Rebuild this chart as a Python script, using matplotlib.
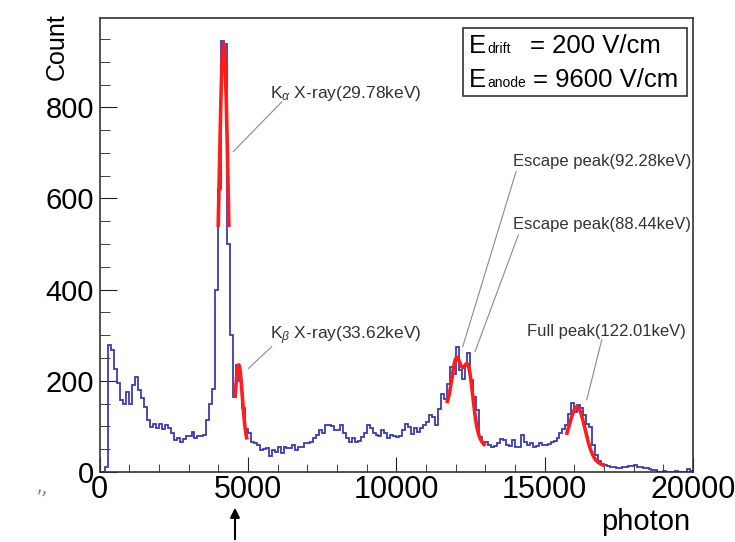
import numpy as np
import matplotlib
matplotlib.use("Agg")
import matplotlib.pyplot as plt
from matplotlib.ticker import MultipleLocator
from matplotlib.patches import Rectangle

plt.rcParams['font.family'] = ['Liberation Sans', 'DejaVu Sans']
plt.rcParams['mathtext.fontset'] = 'custom'
plt.rcParams['mathtext.rm'] = 'Liberation Sans'
plt.rcParams['mathtext.it'] = 'Liberation Sans:italic'

# histogram: 200 bins of 100 photons, 0..20000
bin_width = 100
counts = [
    0, 0, 10, 278, 268, 225, 195, 158, 150, 175,
    150, 190, 208, 180, 162, 142, 114, 99, 105, 97,
    105, 94, 103, 97, 85, 70, 75, 66, 72, 80,
    80, 87, 75, 80, 80, 82, 114, 150, 183, 400,
    620, 945, 940, 500, 300, 165, 235, 200, 140, 95,
    85, 66, 64, 59, 48, 50, 52, 34, 48, 44,
    55, 41, 55, 52, 52, 59, 48, 55, 55, 63,
    63, 66, 74, 81, 92, 85, 103, 103, 100, 92,
    92, 103, 85, 74, 66, 74, 66, 68, 77, 85,
    103, 97, 85, 81, 80, 92, 85, 74, 81, 80,
    77, 80, 92, 106, 99, 84, 96, 88, 96, 103,
    110, 124, 120, 103, 139, 172, 161, 194, 230, 215,
    275, 223, 205, 234, 261, 201, 165, 135, 77, 66,
    66, 60, 55, 57, 63, 73, 70, 59, 58, 70,
    55, 55, 81, 66, 59, 63, 55, 57, 63, 60,
    59, 62, 66, 68, 74, 85, 95, 103, 128, 152,
    132, 147, 140, 125, 105, 99, 60, 37, 23, 18,
    15, 14, 12, 11, 8, 9, 10, 11, 13, 14,
    15, 12, 10, 9, 8, 7, 5, 4, 1, 1,
    2, 1, 1, 1, 2, 1, 1, 1, 6, 2,
]

# fit results: gaussians on a linear background
# (range lo, range hi, bg at lo, bg at hi, [(amp, mean, sigma), ...])
fit_kalpha = (4000, 4360, 90, 90, [(850, 4180, 160)])
fit_kbeta = (4570, 4960, 60, 60, [(175, 4690, 122)])
fit_escape = (11720, 12960, 135, 60, [(128, 12030, 160), (135, 12420, 160)])
fit_full = (15750, 16960, 40, 15, [(110, 16100, 262)])
fits = [fit_kalpha, fit_kbeta, fit_escape, fit_full]

labels = ["K$_{\\alpha}$ X-ray(29.78keV)", "K$_{\\beta}$ X-ray(33.62keV)",
          "Escape peak(92.28keV)", "Escape peak(88.44keV)", "Full peak(122.01keV)"]
label_size = [12.5, 12.5, 12, 12, 12]
label_pos = [(5746, 831), (5746, 300), (13950, 681), (13950, 542), (14397, 308)]
line_from = [(6140, 812), (5803, 275), (14036, 659), (14113, 520), (16924, 290)]
line_to = [(4509, 703), (5015, 227), (12240, 275), (12654, 264), (16418, 158)]


def fitfunc(x, p):
    lo, hi, b0, b1, gs = p
    y = b0 + (b1 - b0) * (x - lo) / (hi - lo)
    for a, m, s in gs:
        y = y + a * np.exp(-0.5 * ((x - m) / s) ** 2)
    return y


fig = plt.figure(figsize=(7.35, 5.42), dpi=100)
ax = fig.add_axes([0.1354, 0.1292, 0.8075, 0.8376])

edges = np.arange(len(counts) + 1) * bin_width
ax.stairs(counts, edges, color='#3c3cb0', lw=1.3, zorder=2)

for p in fits:
    xx = np.linspace(p[0], p[1], 300)
    ax.plot(xx, fitfunc(xx, p), color='#ff1c1c', lw=2.6, zorder=3)

for t, fs, (tx, ty), a, b in zip(labels, label_size, label_pos, line_from, line_to):
    ax.text(tx, ty, t, fontsize=fs, color='#333333', va='center', ha='left')
    ax.plot([a[0], b[0]], [a[1], b[1]], color='#8a8a8a', lw=0.8, zorder=1)

ax.set_xlim(0, 20000)
ax.set_ylim(0, 996)
ax.set_xticks([0, 5000, 10000, 15000, 20000])
ax.set_yticks([0, 200, 400, 600, 800])
ax.xaxis.set_minor_locator(MultipleLocator(1000))
ax.yaxis.set_minor_locator(MultipleLocator(50))
ax.tick_params(which='both', direction='in', top=False, right=False,
               labelsize=21, color='#222222')
ax.tick_params(axis='x', which='major', length=11, pad=2, labelsize=22)
ax.tick_params(axis='x', which='minor', length=6)
ax.tick_params(axis='y', which='major', length=12, pad=4)
ax.tick_params(axis='y', which='minor', length=7)
for s in ax.spines.values():
    s.set_color('#333333')
    s.set_linewidth(1.2)

# legend-like box
ax.add_patch(Rectangle((0.6125, 0.828), 0.3774, 0.150, transform=ax.transAxes,
                       fill=False, edgecolor='#333333', lw=1.2, zorder=4))
ax.text(0.6226, 0.9229, "E", transform=ax.transAxes, fontsize=18.5, va='baseline')
ax.text(0.6529, 0.9229, "drift", transform=ax.transAxes, fontsize=10, va='baseline')
ax.text(0.7253, 0.9229, "= 200 V/cm", transform=ax.transAxes, fontsize=18.5, va='baseline')
ax.text(0.6226, 0.848, "E", transform=ax.transAxes, fontsize=18.5, va='baseline')
ax.text(0.6529, 0.848, "anode", transform=ax.transAxes, fontsize=10, va='baseline')
ax.text(0.7304, 0.848, "= 9600 V/cm", transform=ax.transAxes, fontsize=18.5, va='baseline')

fig.text(57 / 735, 1 - 13 / 542, "Count", rotation=90, fontsize=18, ha='center', va='top')
fig.text(690 / 735, 1 - 522 / 542, "photon", fontsize=21, ha='right', va='center')
fig.text(44 / 735, 1 - 488 / 542, ",,", fontsize=16, color='#777777', rotation=-20,
         ha='center', va='center')

ax.annotate("", xy=(235 / 735, 1 - 505 / 542), xytext=(235 / 735, 0),
            xycoords='figure fraction', textcoords='figure fraction',
            arrowprops=dict(arrowstyle='-|>', color='black', lw=1.5,
                            mutation_scale=14))

fig.savefig("out.png", dpi=100)
